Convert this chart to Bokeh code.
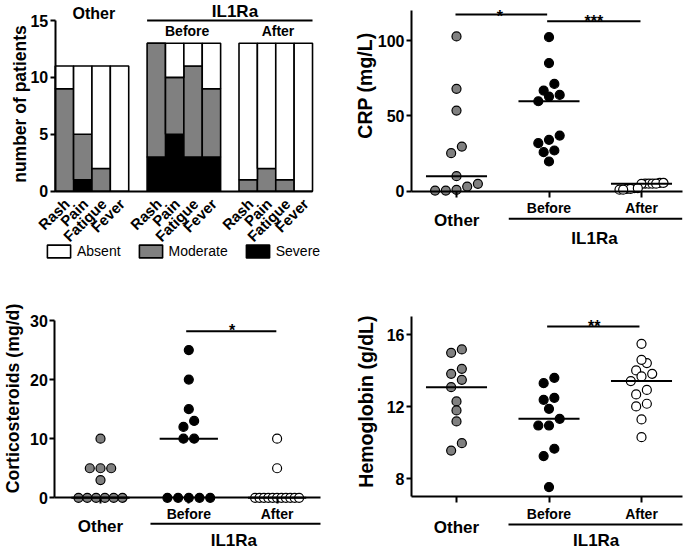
import numpy as np
from bokeh.plotting import figure
from bokeh.models import LinearAxis, FixedTicker, Range1d, Legend, LegendItem
from bokeh.layouts import column, row
from bokeh.core.properties import value
from bokeh.embed import file_html
from bokeh.resources import INLINE

# ---------------- data ----------------
symptoms = ["Rash", "Pain", "Fatigue", "Fever"]
bar_groups = ["Other", "Before", "After"]
severe_other = [0, 1, 0, 0]
moderate_other = [9, 4, 2, 0]
absent_other = [2, 6, 9, 11]
severe_before = [3, 5, 3, 3]
moderate_before = [10, 5, 8, 6]
absent_before = [0, 3, 2, 4]
severe_after = [0, 0, 0, 0]
moderate_after = [1, 2, 1, 0]
absent_after = [12, 11, 12, 13]

dot_groups = ["Other", "Before", "After"]
crp_other = [102.7, 67.9, 53.5, 29.6, 25.2, 10.0, 4.9, 0.9, 0.4, 0.4, 3.1]
crp_before = [102.2, 85.0, 71.2, 63.9, 59.7, 62.8, 66.8, 34.1, 31.9, 36.9, 27.0, 25.9, 19.7]
crp_after = [5.0, 5.0, 5.5, 5.0, 4.9, 5.0, 5.5, 1.0, 1.5, 2.0, 1.5, 2.0, 1.0]

cort_other = [10, 5, 5, 5, 3, 0, 0, 0, 0, 0, 0]
cort_before = [25, 20, 15, 13, 12, 10, 10, 0, 0, 0, 0, 0]
cort_after = [10, 5, 0, 0, 0, 0, 0, 0, 0, 0, 0, 0, 0]

hb_other = [15.19, 15.0, 14.11, 13.83, 13.5, 13.09, 12.30, 11.80, 11.19, 9.98, 9.57]
hb_before = [13.61, 13.31, 12.39, 12.5, 11.89, 11.33, 10.96, 10.96, 9.67, 9.26, 7.54]
hb_after = [15.5, 14.43, 14.61, 13.83, 14.02, 13.69, 13.43, 12.94, 12.69, 12.02, 12.17, 11.30, 10.31]

crp_ticks = [0, 50, 100]
cort_ticks = [0, 10, 20, 30]
hb_ticks = [8, 12, 16]
bar_ticks = [0, 5, 10, 15]

# ---------------- styling ----------------
FONT = "Liberation Sans"
GREY = "#808080"
FILLS = [GREY, "black", "white"]


def make_panel(W, H, ax, bx, ay, by):
    p = figure(width=W, height=H,
               x_range=Range1d(-bx / ax, (W - bx) / ax),
               y_range=Range1d((by - H) / ay, by / ay),
               x_axis_location=None, y_axis_location=None,
               output_backend="svg", toolbar_location=None,
               min_border=0, outline_line_color=None,
               background_fill_color="white", border_fill_color="white")
    p.grid.visible = False
    return p


def add_axes(p, x_at, y_at, xbounds, ybounds, xticks, yticks,
             xtick_out=6, ytick_out=5, xfont=14, yfont=16):
    xa = LinearAxis(fixed_location=y_at, bounds=xbounds,
                    ticker=FixedTicker(ticks=xticks, minor_ticks=[]))
    ya = LinearAxis(fixed_location=x_at, bounds=ybounds,
                    ticker=FixedTicker(ticks=yticks, minor_ticks=[]))
    for a, out, fs in ((xa, xtick_out, xfont), (ya, ytick_out, yfont)):
        a.axis_line_width = 2
        a.axis_line_color = "black"
        a.major_tick_line_width = 2
        a.major_tick_line_color = "black" if out > 0 else None
        a.major_tick_in = 0
        a.major_tick_out = out
        a.minor_tick_line_color = None
        a.major_label_text_font = FONT
        a.major_label_text_font_style = "bold"
        a.major_label_text_font_size = f"{fs}px"
        a.major_label_text_color = "black"
        a.major_label_standoff = 2
    p.add_layout(xa, "below")
    p.add_layout(ya, "left")
    return xa, ya


def label(p, x, y, s, size, angle=0.0, baseline="middle", align="center"):
    p.text(x=[x], y=[y], text=[s], angle=angle, text_align=align,
           text_baseline=baseline, text_font=value(FONT),
           text_font_size=f"{size}px", text_font_style="bold",
           text_color="black")


def hline(p, x0, x1, y):
    p.segment(x0=[x0], y0=[y], x1=[x1], y1=[y], line_color="black", line_width=2)


def swarm(vals, center, ax, ay, thresh_px=9.0, step_px=10.7, max_px=44.0):
    v = np.asarray(vals, dtype=float)
    order = np.argsort(v, kind="stable")
    rows, cur = [], []
    for idx in order:
        if cur and (v[idx] - v[cur[0]]) * ay >= thresh_px:
            rows.append(cur)
            cur = []
        cur.append(idx)
    if cur:
        rows.append(cur)
    xs = np.zeros(len(v))
    for r in rows:
        n = len(r)
        step = step_px if n < 2 else min(step_px, max_px / (n - 1))
        for k, idx in enumerate(r):
            xs[idx] = center + (k - (n - 1) / 2.0) * step / ax
    return xs


def dots(p, series, ax, ay):
    for gi, (vals, fill) in enumerate(zip(series, FILLS)):
        c = gi + 1
        xs = swarm(vals, c, ax, ay)
        p.scatter(xs, vals, size=9, fill_color=fill, line_color="black", line_width=1.2)
    for gi, vals in enumerate(series):
        c = gi + 1
        med = float(np.median(vals))
        hline(p, c - 0.33, c + 0.33, med)


# ---------------- panel A: stacked bars ----------------
A_ax, A_bx, A_ay, A_by = 18.38, 45.51, 11.38, 190.7
pA = make_panel(340, 275, A_ax, A_bx, A_ay, A_by)
sev = [severe_other, severe_before, severe_after]
mod = [moderate_other, moderate_before, moderate_after]
ab = [absent_other, absent_before, absent_after]
xs_all, s_all, m_all, a_all, names_all = [], [], [], [], []
for gi in range(3):
    for i, name in enumerate(symptoms):
        xs_all.append(1 + 5 * gi + i)
        s_all.append(sev[gi][i])
        m_all.append(mod[gi][i])
        a_all.append(ab[gi][i])
        names_all.append(name)
xs_all = np.array(xs_all, float)
s_all = np.array(s_all, float)
m_all = np.array(m_all, float)
a_all = np.array(a_all, float)
r_sev = pA.vbar(x=xs_all, bottom=0, top=s_all, width=1.0, fill_color="black",
                line_color="black", line_width=1.6)
r_mod = pA.vbar(x=xs_all, bottom=s_all, top=s_all + m_all, width=1.0, fill_color=GREY,
                line_color="black", line_width=1.6)
r_abs = pA.vbar(x=xs_all, bottom=s_all + m_all, top=s_all + m_all + a_all, width=1.0,
                fill_color="white", line_color="black", line_width=1.6)
xaA, yaA = add_axes(pA, 0.5, 0, (0.5, 14.5), (0, 15), [], bar_ticks,
                    xtick_out=0, ytick_out=5, xfont=14, yfont=16)
# rotated category labels, anchored just below each bar
pA.text(x=xs_all + 2.5 / A_ax, y=np.full(len(xs_all), -10.0 / A_ay), text=names_all,
        angle=np.pi / 4, text_align="right", text_baseline="middle",
        text_font=value(FONT), text_font_size="15px", text_font_style="bold",
        text_color="black")
label(pA, -1.388, 7.66, "number of patients", 17.5, angle=np.pi / 2)
label(pA, 2.6, 15.64, "Other", 16)
label(pA, 10.28, 15.79, "IL1Ra", 17)
hline(pA, 5.5, 14.5, 15.0)
label(pA, 7.68, 14.06, "Before", 14)
label(pA, 12.62, 14.06, "After", 14)

legA = Legend(items=[LegendItem(label="Absent", renderers=[r_abs]),
                     LegendItem(label="Moderate", renderers=[r_mod]),
                     LegendItem(label="Severe", renderers=[r_sev])],
              orientation="horizontal", location=(44, 16),
              glyph_width=29, glyph_height=16, label_height=16,
              label_standoff=4, spacing=15, padding=0, margin=0,
              border_line_color=None, background_fill_alpha=0,
              label_text_font=FONT, label_text_font_size="14px",
              label_text_color="black")
pA.add_layout(legA)

# ---------------- panel B: CRP ----------------
B_ax, B_bx, B_ay, B_by = 92.5, 23.5, 1.507, 190.7
pB = make_panel(344, 275, B_ax, B_bx, B_ay, B_by)
dots(pB, [crp_other, crp_before, crp_after], B_ax, B_ay)
xaB, yaB = add_axes(pB, 0.5135, 0, (0.5135, 3.44), (0, 120), [1, 2, 3], crp_ticks)
xaB.major_label_overrides = {1: "", 2: "Before", 3: "After"}
xaB.major_label_standoff = 3
label(pB, 0.016, 70.1, "CRP (mg/L)", 19.5, angle=np.pi / 2)
label(pB, 1.003, -19.44, "Other", 17)
hline(pB, 1.565, 3.44, -18.3)
label(pB, 2.492, -31.6, "IL1Ra", 17)
hline(pB, 0.989, 1.98, 117.25)
label(pB, 1.47, 115.9, "*", 16, baseline="alphabetic")
hline(pB, 1.98, 2.989, 112.8)
label(pB, 2.485, 112.6, "***", 16, baseline="alphabetic")

# ---------------- panel C: corticosteroids ----------------
C_ax, C_bx, C_ay, C_by = 88.3, 11.7, 5.91, 222.3
pC = make_panel(340, 274, C_ax, C_bx, C_ay, C_by)
dots(pC, [cort_other, cort_before, cort_after], C_ax, C_ay)
xaC, yaC = add_axes(pC, 0.4824, 0, (0.4824, 3.4915), (0, 30), [1, 2, 3], cort_ticks)
xaC.major_label_overrides = {1: "", 2: "Before", 3: "After"}
xaC.major_label_standoff = 2
label(pC, 0.0034, 16.8, "Corticosteroids (mg/d)", 17.7, angle=np.pi / 2)
label(pC, 1.0, -4.81, "Other", 17)
hline(pC, 1.566, 3.4915, -4.40)
label(pC, 2.51, -7.17, "IL1Ra", 17)
hline(pC, 1.9705, 2.9913, 28.19)
label(pC, 2.49, 28.3, "*", 16, baseline="alphabetic")

# ---------------- panel D: hemoglobin ----------------
D_ax, D_bx, D_ay, D_by = 92.5, 23.5, 18.0, 347.3
pD = make_panel(344, 274, D_ax, D_bx, D_ay, D_by)
dots(pD, [hb_other, hb_before, hb_after], D_ax, D_ay)
xaD, yaD = add_axes(pD, 0.5135, 7, (0.5135, 3.443), (7, 17), [1, 2, 3], hb_ticks)
xaD.major_label_overrides = {1: "", 2: "Before", 3: "After"}
xaD.major_label_standoff = 3
label(pD, 0.0216, 12.29, "Hemoglobin (g/dL)", 19.5, angle=np.pi / 2)
label(pD, 1.0, 5.31, "Other", 17)
hline(pD, 1.562, 3.443, 5.461)
label(pD, 2.51, 4.589, "IL1Ra", 17)
hline(pD, 1.98, 2.978, 16.46)
label(pD, 2.49, 16.46, "**", 16, baseline="alphabetic")

layout = column(row(pA, pB, spacing=0), row(pC, pD, spacing=0), spacing=0)

with open("out.html", "w") as f:
    f.write(file_html(layout, INLINE))
